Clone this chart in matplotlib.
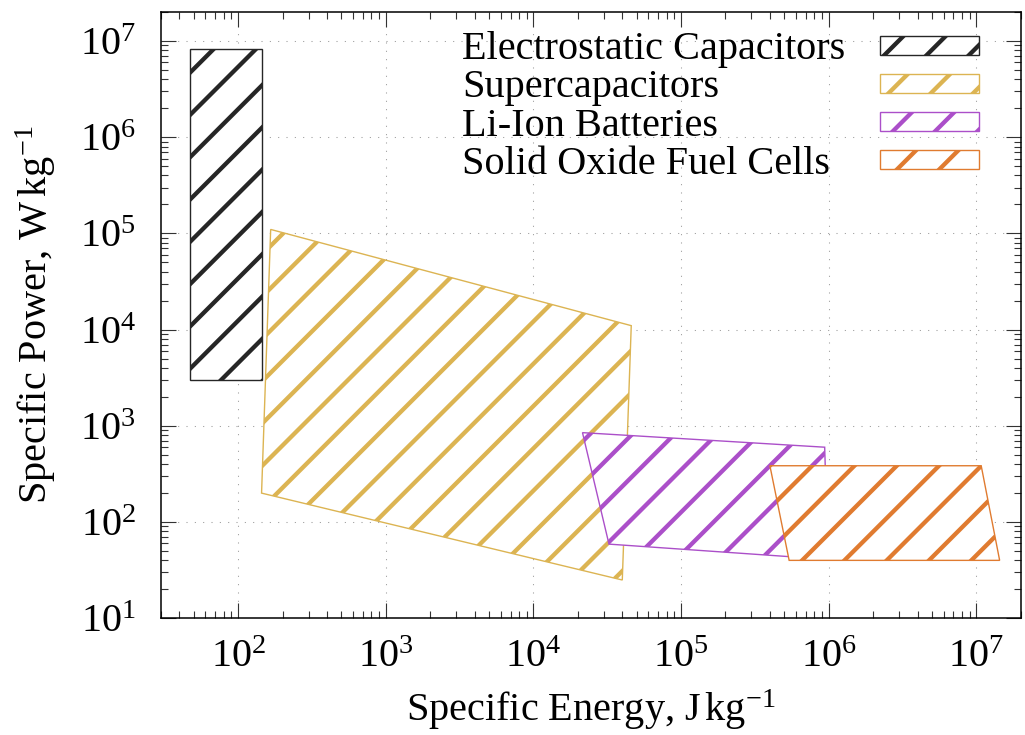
import numpy as np
from matplotlib import pyplot as plt
from matplotlib.patches import Polygon, Rectangle
from matplotlib.lines import Line2D
from matplotlib.transforms import IdentityTransform
from matplotlib.ticker import LogLocator, NullFormatter

# Ragone plot: corners of each region (specific energy J/kg, specific power W/kg)
labels = ['Electrostatic Capacitors', 'Supercapacitors', 'Li-Ion Batteries', 'Solid Oxide Fuel Cells']
colors = ['#262626', '#dcb452', '#ab4fc9', '#e07b30']

cap_energy = [47, 144, 144, 47]
cap_power = [3.0e3, 3.0e3, 8.3e6, 8.3e6]
super_energy = [166, 4.6e4, 4.0e4, 144]
super_power = [1.1e5, 1.1e4, 25, 200]
liion_energy = [2.15e4, 9.4e5, 9.9e5, 3.25e4]
liion_power = [850, 600, 41, 59]
sofc_energy = [4.0e5, 1.08e7, 1.44e7, 5.4e5]
sofc_power = [385, 385, 40, 40]

xticks = [1e2, 1e3, 1e4, 1e5, 1e6, 1e7]
yticks = [1e1, 1e2, 1e3, 1e4, 1e5, 1e6, 1e7]

regions = [(cap_energy, cap_power), (super_energy, super_power),
           (liion_energy, liion_power), (sofc_energy, sofc_power)]

plt.rcParams['font.family'] = 'Liberation Serif'
plt.rcParams['mathtext.fontset'] = 'custom'
plt.rcParams['mathtext.rm'] = 'Liberation Serif'
plt.rcParams['mathtext.it'] = 'Liberation Serif:italic'
plt.rcParams['font.size'] = 29

STEP = 42.3   # hatch spacing in pixels (page anchored, like gnuplot patterns)
PHASE = 7.0


def add_hatch(ax, patch, color, lw=3.1):
    # 45 degree lines in pixel space, clipped to the patch
    bb = patch.get_window_extent()
    k0 = np.floor((bb.y0 - bb.x1 - PHASE) / STEP)
    k1 = np.ceil((bb.y1 - bb.x0 - PHASE) / STEP)
    for k in np.arange(k0, k1 + 1):
        c = PHASE + k * STEP
        ln = Line2D([bb.x0 - 5, bb.x1 + 5], [bb.x0 - 5 + c, bb.x1 + 5 + c],
                    transform=IdentityTransform(), color=color, lw=lw,
                    solid_capstyle='butt', zorder=patch.get_zorder() + 0.1)
        ax.add_artist(ln)
        ln.set_clip_path(patch)


fig = plt.figure(figsize=(10.25, 7.35), dpi=100)
ax = fig.add_axes([161 / 1025, (735 - 618.3) / 735, (1020.7 - 161) / 1025, 606.3 / 735])
ax.set_xscale('log')
ax.set_yscale('log')
ax.set_xlim(30, 2e7)
ax.set_ylim(10, 2e7)

for i, ((en, pw), col) in enumerate(zip(regions, colors)):
    poly = Polygon(np.column_stack([en, pw]), closed=True, facecolor='white',
                   edgecolor=col, lw=1.0, zorder=2 + i)
    ax.add_patch(poly)
    add_hatch(ax, poly, col)

# legend (gnuplot style: text left, sample box right)
box_x, box_w, box_h = 0.8367, 0.1151, 0.0313
row_y0, row_dy = 0.9447, 0.0628
for i, (lab, col) in enumerate(zip(labels, colors)):
    yc = row_y0 - i * row_dy
    ax.text(0.350, yc - 0.0229, lab, transform=ax.transAxes, ha='left', va='baseline', zorder=20)
    box = Rectangle((box_x, yc - box_h / 2), box_w, box_h, transform=ax.transAxes,
                    facecolor='white', edgecolor=col, lw=1.0, zorder=20)
    ax.add_patch(box)
    add_hatch(ax, box, col)

ax.set_xticks(xticks)
ax.set_yticks(yticks)
for a in (ax.xaxis, ax.yaxis):
    a.set_minor_locator(LogLocator(base=10, subs=np.arange(2, 10), numticks=100))
    a.set_minor_formatter(NullFormatter())
ax.set_xlim(30, 2e7)
ax.set_ylim(10, 2e7)

ax.tick_params(which='both', direction='in', top=True, right=True, width=0.8, color='#333333')
ax.tick_params(which='major', length=11)
ax.tick_params(which='minor', length=5)
ax.tick_params(axis='x', which='major', pad=15)
ax.tick_params(axis='y', which='major', pad=18)
for s in ax.spines.values():
    s.set_linewidth(1.1)

ax.grid(True, which='major', color='#999999', linestyle=(0, (1, 7)), linewidth=0.75)
ax.set_axisbelow(True)

ax.set_xlabel(r'Specific Energy, J$\,$kg$^{-1}$', labelpad=8)
ax.set_ylabel(r'Specific Power, W$\,$kg$^{-1}$', labelpad=16)

fig.savefig('out.png', dpi=100)
